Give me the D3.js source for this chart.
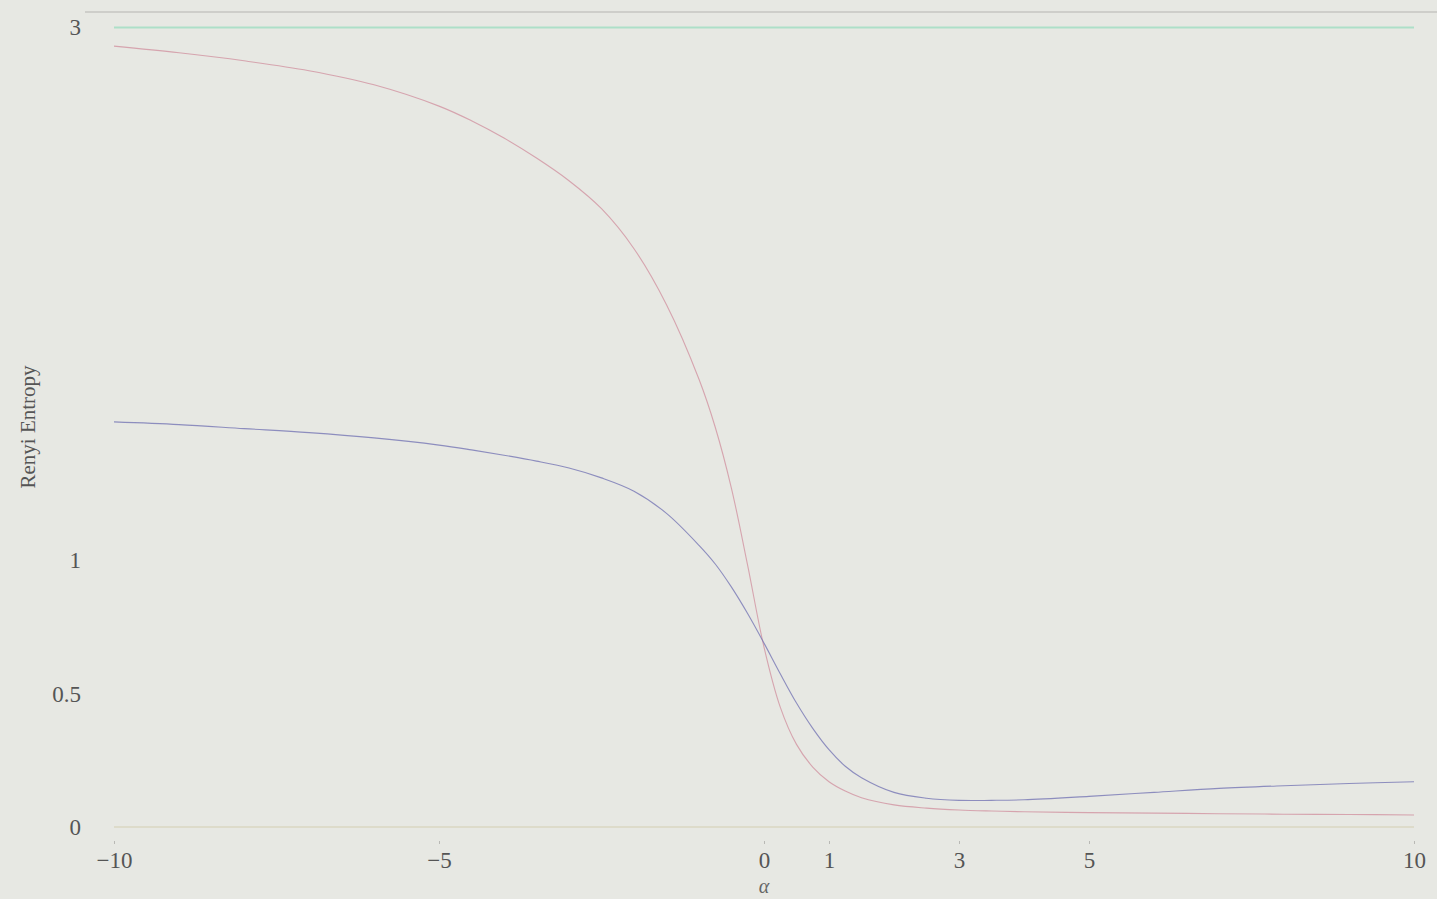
<!DOCTYPE html>
<html>
<head>
<meta charset="utf-8">
<script src="https://cdn.jsdelivr.net/npm/d3@7"></script>
<style>
  body { margin: 0; background: #e7e8e3; }
  svg { display: block; }
  text { font-family: "Liberation Serif", "Times New Roman", serif; fill: #555; }
</style>
</head>
<body>
<div id="chart"></div>
<script>
// chart size and plot edges
const WIDTH = 1437, HEIGHT = 899;
const plot = {left: 114, right: 1414, top: 27.5, bottom: 827};

// data
const alphas = [-10, -9, -8, -7, -6, -5, -4.5, -4, -3.5, -3, -2.5, -2, -1.5, -1, -0.75, -0.5, -0.25,
  0, 0.25, 0.5, 0.75, 1, 1.25, 1.5, 2, 2.5, 3, 3.5, 4, 5, 6, 7, 8, 9, 10];
const redEntropy = [2.93, 2.905, 2.875, 2.838, 2.785, 2.705, 2.65, 2.585, 2.51, 2.425, 2.32, 2.17, 1.96, 1.68, 1.50, 1.27, 0.98,
  0.675, 0.45, 0.31, 0.225, 0.17, 0.135, 0.11, 0.083, 0.071, 0.064, 0.06, 0.057, 0.054, 0.052, 0.05, 0.048, 0.047, 0.045];
const blueEntropy = [1.52, 1.51, 1.495, 1.48, 1.46, 1.433, 1.415, 1.395, 1.373, 1.347, 1.31, 1.26, 1.177, 1.057, 0.987, 0.90, 0.80,
  0.69, 0.575, 0.465, 0.37, 0.29, 0.228, 0.185, 0.13, 0.108, 0.10, 0.10, 0.102, 0.115, 0.13, 0.145, 0.155, 0.163, 0.17];
const maxEntropy = alphas.map(() => 3);
const zeroLine = alphas.map(() => 0);

const xTicks = [-10, -5, 0, 1, 3, 5, 10];
const yTicks = [0, 0.5, 1, 3];

let svg = d3.select("#chart")
  .append("svg")
  .attr("width", WIDTH)
  .attr("height", HEIGHT);

let x = d3.scaleLinear()
  .domain([-10, 10])
  .range([plot.left, plot.right]);

let y = d3.scaleLinear()
  .domain([0, 3])
  .range([plot.bottom, plot.top]);

// top frame line
svg.append("line")
  .attr("x1", 85).attr("x2", WIDTH)
  .attr("y1", 12).attr("y2", 12)
  .attr("stroke", "#c6c6c2")
  .attr("stroke-width", 1.5);

// x axis (tiny ticks, serif labels)
let xAxis = svg.append("g")
  .attr("transform", `translate(0, 841)`)
  .call(d3.axisBottom(x).tickValues(xTicks).tickSize(3).tickPadding(8)
    .tickFormat(d => d < 0 ? "\u2212" + Math.abs(d) : d));
xAxis.select(".domain").remove();
xAxis.selectAll(".tick line").attr("stroke", "#b9b9b5");
xAxis.selectAll("text").style("font-size", "23px").style("fill", "#555");

// y axis labels only
let yAxis = svg.append("g")
  .attr("transform", `translate(81, 0)`)
  .call(d3.axisLeft(y).tickValues(yTicks).tickSize(0).tickPadding(0)
    .tickFormat(d => String(d)));
yAxis.select(".domain").remove();
yAxis.selectAll("text").style("font-size", "23px").style("fill", "#555");

// reference lines
let line = d3.line()
  .x(function(d, i) { return x(alphas[i]); })
  .y(function(d) { return y(d); })
  .curve(d3.curveCatmullRom.alpha(0.5));

svg.append("path")
  .datum(zeroLine)
  .attr("d", line)
  .attr("fill", "none")
  .attr("stroke", "#dad7c2")
  .attr("stroke-width", 1.5);

svg.append("path")
  .datum(maxEntropy)
  .attr("d", line)
  .attr("fill", "none")
  .attr("stroke", "#addfc8")
  .attr("stroke-width", 1.8);

// entropy curves
svg.append("path")
  .datum(redEntropy)
  .attr("d", line)
  .attr("fill", "none")
  .attr("stroke", "#cc8092")
  .attr("stroke-opacity", 0.65)
  .attr("stroke-width", 1.1);

svg.append("path")
  .datum(blueEntropy)
  .attr("d", line)
  .attr("fill", "none")
  .attr("stroke", "#6f6fb2")
  .attr("stroke-opacity", 0.75)
  .attr("stroke-width", 1.1);

// axis titles
svg.append("text")
  .attr("transform", `translate(35, 427) rotate(-90)`)
  .style("text-anchor", "middle")
  .style("font-size", "21px")
  .style("fill", "#555")
  .text("Renyi Entropy");

svg.append("text")
  .attr("x", x(0))
  .attr("y", 893)
  .style("text-anchor", "middle")
  .style("font-size", "20px")
  .style("font-style", "italic")
  .style("fill", "#666")
  .text("α");
</script>
</body>
</html>
